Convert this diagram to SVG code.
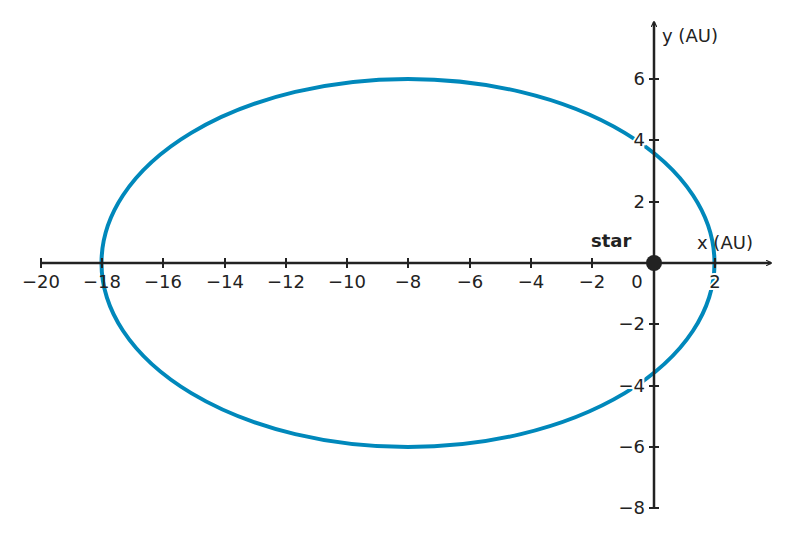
<svg xmlns="http://www.w3.org/2000/svg" width="795" height="537" viewBox="0 0 795 537">
<style>
text{font-family:"DejaVu Sans",sans-serif;font-size:18px;fill:#222}
.tx{text-anchor:middle}
.ty{text-anchor:end}
.h{paint-order:stroke;stroke:#fff;stroke-width:4px}
.ax{stroke:#222;stroke-width:2.5;fill:none}
.tk{stroke:#222;stroke-width:2}
</style>
<defs><marker id="ar" viewBox="0 0 10 10" refX="9" refY="5" markerWidth="6" markerHeight="6" orient="auto" markerUnits="userSpaceOnUse"><path d="M0,0 L10,5 L0,10" fill="none" stroke="#222" stroke-width="2"/></marker></defs>
<g id="orbit"><ellipse cx="408" cy="263" rx="306.5" ry="184" fill="none" stroke="#0088bb" stroke-width="4"/></g>
<g id="axes">
<line class="ax" x1="41" y1="263" x2="771" y2="263" marker-end="url(#ar)"/>
<line class="ax" x1="654" y1="508" x2="654" y2="22" marker-end="url(#ar)"/>
<g class="tk">
<line x1="41" y1="258" x2="41" y2="268"/><line x1="102" y1="258" x2="102" y2="268"/><line x1="163" y1="258" x2="163" y2="268"/><line x1="225" y1="258" x2="225" y2="268"/><line x1="286" y1="258" x2="286" y2="268"/><line x1="347" y1="258" x2="347" y2="268"/><line x1="408" y1="258" x2="408" y2="268"/><line x1="470" y1="258" x2="470" y2="268"/><line x1="531" y1="258" x2="531" y2="268"/><line x1="592" y1="258" x2="592" y2="268"/><line x1="715" y1="258" x2="715" y2="268"/>
<line x1="649" y1="79" x2="659" y2="79"/><line x1="649" y1="140" x2="659" y2="140"/><line x1="649" y1="202" x2="659" y2="202"/><line x1="649" y1="324" x2="659" y2="324"/><line x1="649" y1="386" x2="659" y2="386"/><line x1="649" y1="447" x2="659" y2="447"/><line x1="649" y1="508" x2="659" y2="508"/>
</g>
<text class="tx" x="41" y="288">−20</text><text class="tx" x="102" y="288">−18</text><text class="tx" x="163" y="288">−16</text><text class="tx" x="225" y="288">−14</text><text class="tx" x="286" y="288">−12</text><text class="tx" x="347" y="288">−10</text><text class="tx" x="408" y="288">−8</text><text class="tx" x="470" y="288">−6</text><text class="tx" x="531" y="288">−4</text><text class="tx" x="592" y="288">−2</text><text class="tx" x="637" y="288">0</text><text class="tx h" x="715" y="288">2</text>
<text class="ty" x="645" y="85">6</text><text class="ty h" x="645" y="146">4</text><text class="ty" x="645" y="208">2</text><text class="ty" x="645" y="330">−2</text><text class="ty h" x="645" y="392">−4</text><text class="ty" x="645" y="453">−6</text><text class="ty" x="645" y="514">−8</text>
<text x="662" y="42" font-size="20">y (AU)</text>
<text x="697" y="249" font-size="20">x (AU)</text>
</g>
<g id="star"><circle cx="654" cy="263" r="8" fill="#222"/><text x="591" y="247" font-weight="bold" font-size="20">star</text></g>
</svg>
